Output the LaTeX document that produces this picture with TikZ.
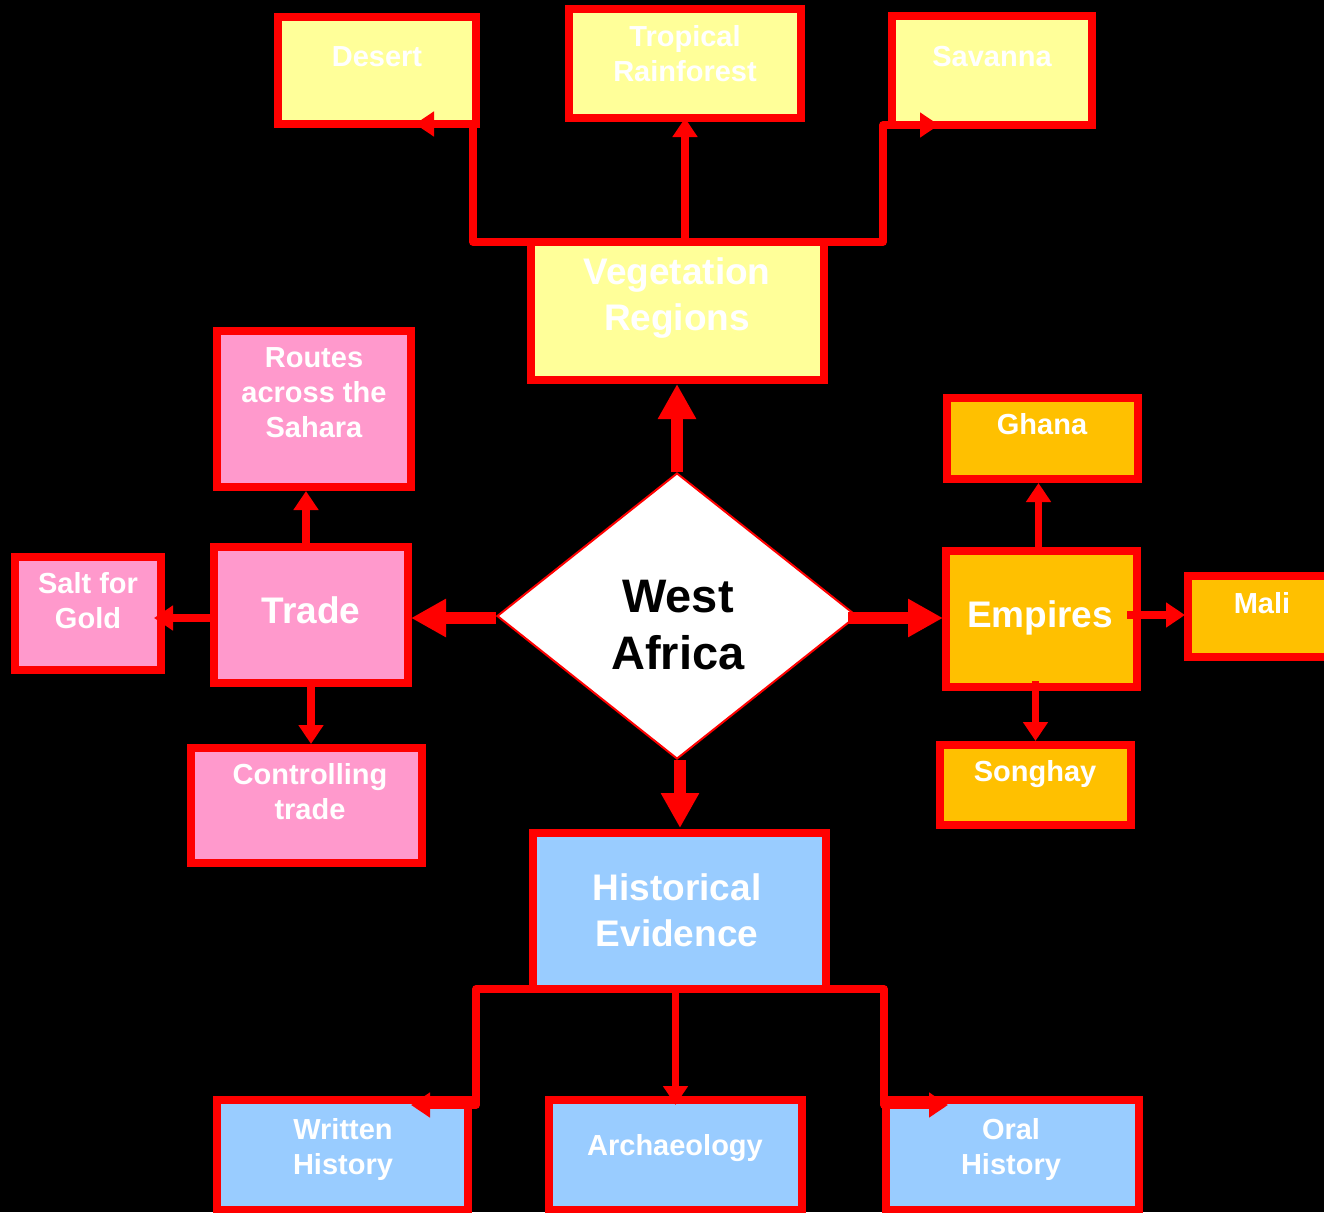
\documentclass[tikz,border=0pt]{standalone}
\usepackage{fontspec}
\setmainfont{Liberation Sans}
\usetikzlibrary{shapes.geometric,arrows.meta}
\definecolor{bred}{HTML}{FF0000}
\definecolor{byellow}{HTML}{FFFF99}
\definecolor{bpink}{HTML}{FF99CC}
\definecolor{borange}{HTML}{FFC000}
\definecolor{bblue}{HTML}{99CCFF}
\begin{document}
\begin{tikzpicture}[x=1pt,y=-1pt,
  box/.style={draw=bred, line width=8pt, inner sep=0pt, outer sep=0pt},
  yel/.style={box, fill=byellow},
  pnk/.style={box, fill=bpink},
  org/.style={box, fill=borange},
  blu/.style={box, fill=bblue},
  txt/.style={text=white, font=\bfseries\fontsize{29}{35}\selectfont, align=center, anchor=base, inner sep=0pt},
  bigtxt/.style={txt, font=\bfseries\fontsize{37}{46}\selectfont},
  sa/.style={draw=bred, line width=7.5pt, line join=round, -{Triangle[length=19pt,width=24pt]}},
  ba/.style={draw=bred, line width=12pt, -{Triangle[length=35pt,width=36pt]}}
]
\clip (0,0) rectangle (1324,1212);
\fill[black] (0,0) rectangle (1324,1212);

% Vegetation group
\node[yel, minimum width=198pt, minimum height=107pt] (desert) at (377,70.5) {};
\node[yel, minimum width=232pt, minimum height=109pt] (trop) at (685,63.5) {};
\node[yel, minimum width=200pt, minimum height=109pt] (sav) at (992,70.5) {};
\node[yel, minimum width=293pt, minimum height=138pt] (veg) at (677.5,311) {};

% Trade group
\node[pnk, minimum width=194pt, minimum height=156pt] (routes) at (314,409) {};
\node[pnk, minimum width=194pt, minimum height=136pt] (trade) at (311,615) {};
\node[pnk, minimum width=146pt, minimum height=113pt] (salt) at (88,613.5) {};
\node[pnk, minimum width=231pt, minimum height=115pt] (ctrl) at (306.5,805.5) {};

% Empires group
\node[org, minimum width=191pt, minimum height=81pt] (ghana) at (1042.5,438.5) {};
\node[org, minimum width=191pt, minimum height=136pt] (emp) at (1041.5,619) {};
\node[org, minimum width=148pt, minimum height=81pt] (mali) at (1262,616.5) {};
\node[org, minimum width=191pt, minimum height=80pt] (song) at (1035.5,785) {};

% Historical group
\node[blu, minimum width=293pt, minimum height=156pt] (hist) at (679.5,911) {};
\node[blu, minimum width=251pt, minimum height=110pt] (writ) at (342.5,1155) {};
\node[blu, minimum width=253pt, minimum height=110pt] (arch) at (675.5,1155) {};
\node[blu, minimum width=253pt, minimum height=110pt] (oral) at (1012.5,1155) {};

% Centre diamond
\node[diamond, draw=bred, line width=2pt, fill=white, inner sep=0pt,
      minimum width=360pt, minimum height=286pt] (wa) at (677,616) {};

% Connectors: vegetation
\draw[sa] (veg.north) -| ([xshift=-3pt]desert.south east) -- ++(-58,0);
\draw[sa] (veg.north -| trop.south) -- (trop.south);
\draw[sa] (veg.north) -| ([xshift=-9pt]sav.south west) -- ++(56,0);

% Connectors: historical
\draw[sa] (hist.south) -| ([xshift=8pt,yshift=-5pt]writ.north east) -- ++(-65,0);
\draw[sa] (hist.south -| arch.north) -- ([yshift=-5pt]arch.north);
\draw[sa] (hist.south) -| ([xshift=-2pt,yshift=-5pt]oral.north west) -- ++(64,0);

% Connectors: trade
\draw[sa] ([xshift=-5pt]trade.north) -- ([xshift=-5pt,yshift=-4pt]trade.north |- routes.south);
\draw[sa] ([yshift=-3pt]trade.west) -- ([xshift=-7pt,yshift=-3pt]trade.west -| salt.east);
\draw[sa] (trade.south) -- ([yshift=4pt]trade.south |- ctrl.north);

% Connectors: empires
\draw[sa] ([xshift=-3pt]emp.north) -- ([xshift=-3pt,yshift=-4pt]emp.north |- ghana.south);
\draw[sa] ([xshift=-10pt,yshift=4pt]emp.east) -- ([xshift=-3pt,yshift=4pt]emp.east -| mali.west);
\draw[sa] ([xshift=-6pt,yshift=6pt]emp.south) -- ([xshift=-6pt,yshift=4pt]emp.south |- song.north);

% Main thick arrows
\draw[ba] (wa.north) -- ([yshift=-4pt]wa.north |- veg.south);
\draw[ba] ([yshift=-2pt]wa.west) -- ([xshift=3pt,yshift=-2pt]wa.west -| trade.east);
\draw[ba] ([xshift=-10pt,yshift=-2pt]wa.east) -- ([xshift=-3pt,yshift=-2pt]wa.east -| emp.west);
\draw[ba] ([xshift=3pt]wa.south) -- ([xshift=3pt,yshift=5pt]wa.south |- hist.north);

% Texts (base anchor = baseline of the last line)
\node[txt] (tdesert) at (377,66.4) {Desert};
\node[txt] (ttrop) at (685,81.4) {Tropical\\Rainforest};
\node[txt] (tsav) at (992,66.4) {Savanna};
\node[bigtxt] (tveg) at (677,330.3) {Vegetation\\Regions};
\node[txt] (troutes) at (314,437.5) {Routes\\across the\\Sahara};
\node[bigtxt] (ttrade) at (311,623.6) {Trade};
\node[txt] (tsalt) at (88,628.6) {Salt for\\Gold};
\node[txt] (tctrl) at (310,819.4) {Controlling\\trade};
\node[txt, text=black, font=\bfseries\fontsize{47}{57}\selectfont] (twa) at (678,669) {West\\Africa};
\node[bigtxt] (temp) at (1040,627.5) {Empires};
\node[txt] (tghana) at (1042,434.5) {Ghana};
\node[txt] (tmali) at (1262,613.4) {Mali};
\node[txt] (tsong) at (1035,781.4) {Songhay};
\node[bigtxt] (thist) at (677,946.3) {Historical\\Evidence};
\node[txt] (twrit) at (343,1174.5) {Written\\History};
\node[txt] (tarch) at (675,1155.5) {Archaeology};
\node[txt] (toral) at (1011,1174.5) {Oral\\History};
\end{tikzpicture}
\end{document}
